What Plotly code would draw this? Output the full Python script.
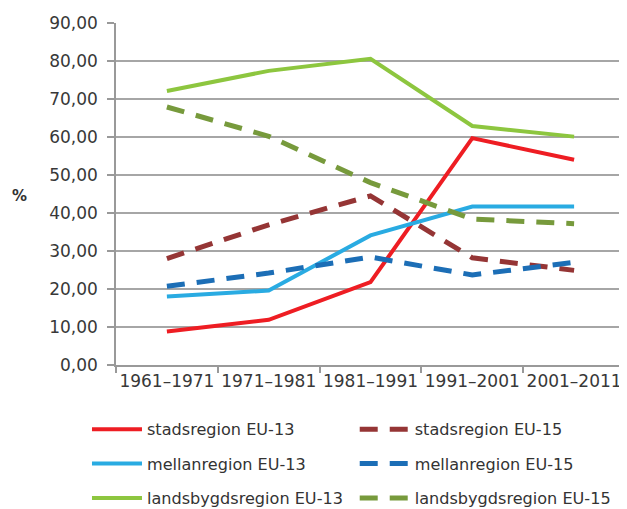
import plotly.graph_objects as go

categories = ["1961–1971", "1971–1981", "1981–1991", "1991–2001", "2001–2011"]

stads_eu13 = [8.8, 11.9, 21.8, 59.7, 54.0]
stads_eu15 = [28.0, 36.9, 44.5, 28.2, 24.9]
mellan_eu13 = [18.0, 19.6, 34.1, 41.7, 41.7]
mellan_eu15 = [20.7, 24.2, 28.4, 23.7, 27.0]
lands_eu13 = [72.1, 77.4, 80.6, 62.9, 60.1]
lands_eu15 = [67.9, 60.2, 48.0, 38.4, 37.2]

y_ticks = [0, 10, 20, 30, 40, 50, 60, 70, 80, 90]
y_ticklabels = [f"{v},00" for v in y_ticks]

series = [
    ("stadsregion EU-13", stads_eu13, "#EE1D23", "solid", "legend"),
    ("mellanregion EU-13", mellan_eu13, "#29ABE2", "solid", "legend"),
    ("landsbygdsregion EU-13", lands_eu13, "#8DC63F", "solid", "legend"),
    ("stadsregion EU-15", stads_eu15, "#953535", "18px,12px", "legend2"),
    ("mellanregion EU-15", mellan_eu15, "#1C6EB6", "18px,12px", "legend2"),
    ("landsbygdsregion EU-15", lands_eu15, "#779A3C", "18px,12px", "legend2"),
]

fig = go.Figure()
for i, (name, vals, color, dash, leg) in enumerate(series):
    fig.add_trace(go.Scatter(
        x=categories, y=vals, name=name, mode="lines",
        line=dict(color=color, width=4 if dash == "solid" else 5, dash=dash),
        legend=leg, legendgroup=f"g{i}",
    ))

legend_font = dict(family="DejaVu Sans, sans-serif", size=16.1, color="#333333")
common_legend = dict(
    orientation="v", yanchor="top", xanchor="left",
    font=legend_font, tracegroupgap=10.5, bgcolor="rgba(0,0,0,0)",
    itemwidth=50, borderwidth=0,
)
tick_font = dict(family="DejaVu Sans, sans-serif", size=17, color="#383838")
fig.update_layout(
    width=627, height=509,
    margin=dict(l=108, r=10, t=15, b=152, autoexpand=False),
    paper_bgcolor="white", plot_bgcolor="white",
    font=dict(family="DejaVu Sans, sans-serif", size=17, color="#333333"),
    legend=dict(x=-0.057, y=-0.138, **common_legend),
    legend2=dict(x=0.469, y=-0.138, **common_legend),
    xaxis=dict(
        type="category", range=[-0.5, 4.5], tickson="boundaries",
        ticks="outside", ticklen=6, tickcolor="#999999", tickwidth=1.5,
        showline=True, linecolor="#999999", linewidth=1.5, tickangle=0,
        showgrid=False, tickfont=tick_font, automargin=False,
    ),
    yaxis=dict(
        range=[0, 90], tickvals=y_ticks, ticktext=y_ticklabels,
        ticks="outside", ticklen=7, tickcolor="#999999", tickwidth=1.5,
        showline=True, linecolor="#999999", linewidth=1.5,
        showgrid=True, gridcolor="#A6A6A6", gridwidth=1.5,
        zeroline=False, tickfont=tick_font, automargin=False,
        ticklabelstandoff=6,
    ),
    annotations=[dict(
        text="<b>%</b>", xref="paper", yref="paper", x=-0.189, y=0.494,
        xanchor="center", yanchor="middle", showarrow=False,
        font=dict(family="DejaVu Sans, sans-serif", size=15, color="#333333"),
    )],
)

fig.write_html("out.html")
